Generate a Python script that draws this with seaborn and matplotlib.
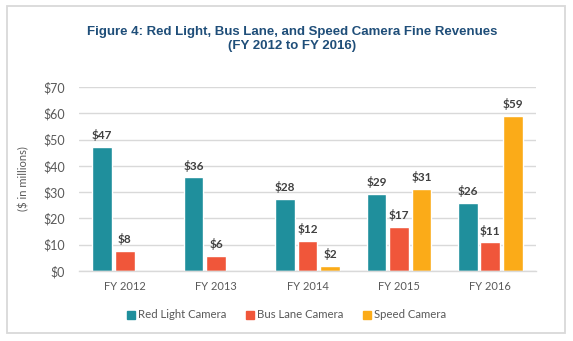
import matplotlib
matplotlib.use("Agg")
import matplotlib.pyplot as plt
import matplotlib.patches as mpatches
import seaborn as sns
import pandas as pd

# Fine revenues in millions of dollars
years = ["FY 2012", "FY 2013", "FY 2014", "FY 2015", "FY 2016"]
red_light = [47.3, 35.7, 27.5, 29.3, 25.9]
bus_lane = [7.6, 5.7, 11.5, 16.8, 11.0]
speed = [0.0, 0.0, 1.9, 31.2, 59.0]
series = ["Red Light Camera", "Bus Lane Camera", "Speed Camera"]
colors = ["#1F8F9C", "#F0563A", "#FBAB18"]

df = pd.DataFrame({
    "year": years * 3,
    "program": [series[0]] * 5 + [series[1]] * 5 + [series[2]] * 5,
    "revenue": red_light + bus_lane + speed,
})

sns.set_theme(style="white")
plt.rcParams["font.family"] = ["Lato", "DejaVu Sans"]

fig = plt.figure(figsize=(5.73, 3.41), dpi=100)
ax = fig.add_axes([79 / 573, 1 - 271 / 341, (536 - 79) / 573, (271 - 87) / 341])

sns.barplot(data=df, x="year", y="revenue", hue="program", hue_order=series,
            palette=colors, width=0.74, gap=0.13, ax=ax, legend=False,
            saturation=1, errorbar=None)

for cont in ax.containers:
    labels = [f"${v:.0f}" if v > 0 else "" for v in cont.datavalues]
    ax.bar_label(cont, labels=labels, padding=4, fontsize=8.5,
                 fontweight="bold", color="#404040")

ax.set_ylim(0, 70)
ax.set_yticks(range(0, 71, 10))
ax.set_yticklabels([f"${v}" for v in range(0, 71, 10)])
ax.yaxis.grid(True, color="#D9D9D9", linewidth=1)
ax.set_axisbelow(True)
for side in ["left", "right", "top"]:
    ax.spines[side].set_visible(False)
ax.spines["bottom"].set_color("#D9D9D9")
ax.spines["bottom"].set_linewidth(1)
ax.tick_params(axis="y", length=0, labelsize=9, colors="#595959", pad=10)
ax.tick_params(axis="x", length=0, labelsize=8, colors="#595959", pad=7)
ax.set_xlabel("")
ax.set_ylabel("($ in millions)", fontsize=8, color="#595959", labelpad=10)

fig.text(0.51, 0.885, "Figure 4: Red Light, Bus Lane, and Speed Camera Fine Revenues\n(FY 2012 to FY 2016)",
         ha="center", va="center", fontsize=9.5, fontweight="bold",
         color="#1F4E79", family=["Liberation Sans", "DejaVu Sans"], linespacing=1.25)

handles = [mpatches.Patch(color=c, label=s) for c, s in zip(colors, series)]
fig.legend(handles=handles, loc="center", bbox_to_anchor=(0.5, 1 - 315 / 341),
           ncol=3, frameon=False, fontsize=8.2, labelcolor="#595959",
           handlelength=0.7, handleheight=0.7, handletextpad=0.3, columnspacing=1.7)

fig.patches.append(mpatches.Rectangle((7 / 573, 1 - 333 / 341), (565 - 7) / 573, (333 - 6) / 341,
                                      transform=fig.transFigure, fill=False,
                                      edgecolor="#D9D9D9", linewidth=1.3))

fig.savefig("out.png", dpi=100)
